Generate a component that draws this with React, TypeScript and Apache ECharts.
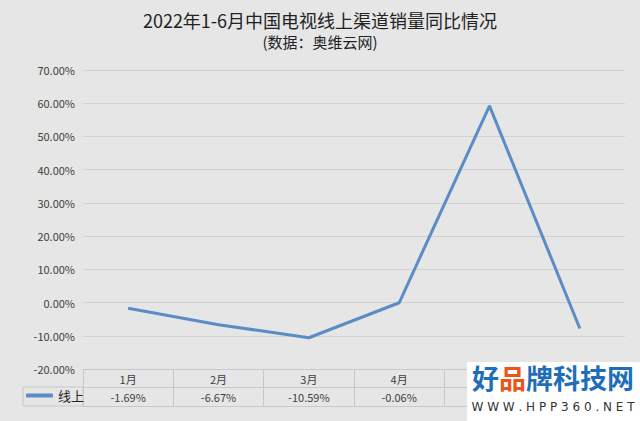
import React, { useEffect, useRef } from "react";
import * as echarts from "echarts";

const titleText = "2022年1-6月中国电视线上渠道销量同比情况";
const subtitleText = "(数据：奥维云网)";
const months = ["1月", "2月", "3月", "4月", "5月", "6月"];
const seriesName = "线上";
const onlineYoY = [-1.69, -6.67, -10.59, -0.06, 59.2, -7.8];
const yMin = -20;
const yMax = 70;
const yInterval = 10;

const FONT = "'Noto Sans CJK SC', 'Noto Sans', sans-serif";
const BG = "#e6e6e6";
const GRID = "#d2d2d2";
const TABLE = "#c8c8c8";
const LINE = "#5b8dc4";
const TEXT = "#404040";

export default function App() {
  const ref = useRef<HTMLDivElement>(null);
  useEffect(() => {
    if (!ref.current) return;
    const chart = echarts.init(ref.current, null, { renderer: "svg" });
    const valueLabels = onlineYoY.map((v) => v.toFixed(2) + "%");
    const baseX = {
      type: "category",
      boundaryGap: true,
      position: "bottom",
      splitLine: { show: false },
    };
    chart.setOption({
      animation: false,
      backgroundColor: BG,
      textStyle: { fontFamily: FONT },
      title: [
        {
          text: titleText,
          left: "center",
          top: 11,
          padding: 0,
          textStyle: { fontSize: 18, fontWeight: "normal", color: "#222", fontFamily: FONT },
        },
        {
          text: subtitleText,
          left: "center",
          top: 34,
          padding: 0,
          textStyle: { fontSize: 15, fontWeight: "normal", color: "#222", fontFamily: FONT },
        },
      ],
      legend: {
        data: [seriesName],
        left: 26,
        top: 389,
        padding: 0,
        itemWidth: 27,
        itemHeight: 4,
        icon: "roundRect",
        textStyle: { fontSize: 13, color: "#222", fontFamily: FONT },
      },
      grid: { left: 83, right: 15, top: 70, bottom: 52, containLabel: false },
      xAxis: [
        {
          ...baseX,
          data: months,
          axisLine: { show: true, onZero: false, lineStyle: { color: TABLE, width: 1 } },
          axisTick: { show: true, inside: false, length: 37, lineStyle: { color: TABLE } },
          axisLabel: { margin: 4, fontSize: 11, color: TEXT, fontFamily: FONT },
        },
        {
          ...baseX,
          data: valueLabels,
          offset: 18,
          axisLine: { show: true, onZero: false, lineStyle: { color: TABLE, width: 1 } },
          axisTick: { show: false },
          axisLabel: { margin: 4, fontSize: 11, color: TEXT, fontFamily: FONT },
        },
        {
          ...baseX,
          data: months,
          offset: 37,
          axisLine: { show: true, onZero: false, lineStyle: { color: TABLE, width: 1 } },
          axisTick: { show: false },
          axisLabel: { show: false },
        },
      ],
      yAxis: {
        type: "value",
        min: yMin,
        max: yMax,
        interval: yInterval,
        axisLine: { show: false },
        axisTick: { show: false },
        axisLabel: {
          margin: 8,
          fontSize: 11,
          color: TEXT,
          fontFamily: FONT,
          formatter: (v: number) => v.toFixed(2) + "%",
        },
        splitLine: { show: true, lineStyle: { color: GRID, width: 1 } },
      },
      series: [
        {
          name: seriesName,
          type: "line",
          xAxisIndex: 0,
          data: onlineYoY,
          symbol: "none",
          lineStyle: { color: LINE, width: 3 },
          itemStyle: { color: LINE },
        },
      ],
      graphic: [
        {
          type: "rect",
          shape: { x: 23, y: 387, width: 60, height: 19 },
          style: { fill: "none", stroke: TABLE, lineWidth: 1 },
          silent: true,
          z: 1,
        },
        {
          type: "rect",
          shape: { x: 467, y: 362, width: 173, height: 59 },
          style: { fill: "#ffffff" },
          z: 100,
          zlevel: 1,
        },
        {
          type: "text",
          x: 553,
          y: 364,
          z: 101,
          zlevel: 1,
          style: {
            text: "{b|好}{o|品}{b|牌科技网}",
            align: "center",
            rich: {
              b: { fill: "#1f6fb8", fontSize: 27, fontWeight: "bold", fontFamily: FONT },
              o: { fill: "#e8561a", fontSize: 27, fontWeight: "bold", fontFamily: FONT },
            },
          },
        },
        {
          type: "text",
          x: 553,
          y: 401,
          z: 101,
          zlevel: 1,
          style: {
            text: "W W W . H P P 3 6 0 . N E T",
            align: "center",
            fill: "#333333",
            fontSize: 12,
            fontFamily: "'DejaVu Sans', sans-serif",
          },
        },
      ],
    });
    return () => chart.dispose();
  }, []);
  return (
    <div
      ref={ref}
      style={{ position: "fixed", left: 0, top: 0, width: 640, height: 421 }}
    />
  );
}
